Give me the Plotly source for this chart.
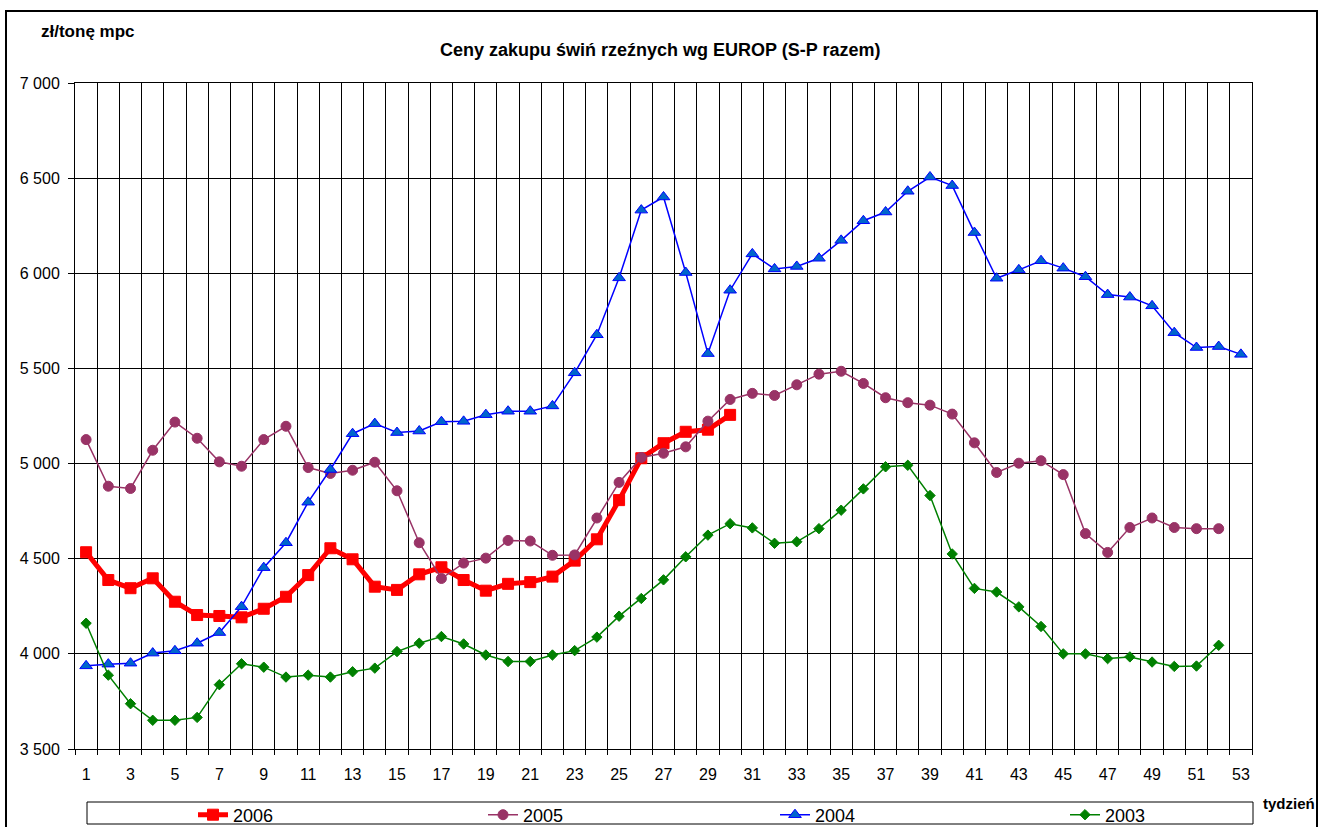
import plotly.graph_objects as go

weeks = list(range(1, 54))
p2006 = [4534, 4388, 4345, 4397, 4274, 4204, 4199, 4192, 4237, 4300,
         4414, 4555, 4497, 4353, 4336, 4418, 4455, 4388, 4332, 4368,
         4377, 4406, 4490, 4602, 4808, 5028, 5107, 5167, 5178, 5256]
p2005 = [5126, 4881, 4869, 5070, 5218, 5133, 5009, 4986, 5126, 5196,
         4979, 4948, 4965, 5007, 4857, 4584, 4396, 4477, 4503, 4596,
         4593, 4518, 4520, 4714, 4901, 5032, 5054, 5088, 5223, 5337,
         5369, 5358, 5414, 5470, 5485, 5421, 5346, 5320, 5307, 5260,
         5109, 4953, 5002, 5015, 4942, 4632, 4533, 4664, 4714, 4664,
         4658, 4658]
p2004 = [3937, 3946, 3951, 4004, 4016, 4056, 4112, 4248, 4453, 4584,
         4797, 4969, 5157, 5210, 5163, 5171, 5220, 5222, 5257, 5275,
         5275, 5303, 5477, 5677, 5976, 6332, 6401, 6004, 5578, 5911,
         6102, 6023, 6036, 6079, 6173, 6276, 6322, 6431, 6506, 6461,
         6214, 5974, 6018, 6066, 6027, 5982, 5888, 5875, 5829, 5688,
         5610, 5615, 5574]
p2003 = [4161, 3888, 3738, 3651, 3651, 3666, 3838, 3948, 3930, 3878,
         3888, 3878, 3906, 3925, 4012, 4056, 4091, 4052, 3994, 3960,
         3960, 3994, 4017, 4088, 4198, 4291, 4389, 4510, 4624, 4684,
         4662, 4581, 4589, 4658, 4755, 4867, 4983, 4991, 4832, 4525,
         4344, 4325, 4247, 4144, 4000, 4000, 3975, 3984, 3957, 3934,
         3936, 4045]

x_labels = [str(w) for w in weeks if w % 2 == 1]
y_ticks = [3500, 4000, 4500, 5000, 5500, 6000, 6500, 7000]

FONT = "Liberation Sans, Arial, sans-serif"

W, H = 1321, 827
L, R, T, B = 75, 1252, 83, 749


def px(x):
    return (x - L) / (R - L)


def py(y):
    return (B - y) / (B - T)


fig = go.Figure()
fig.add_trace(go.Scatter(
    x=weeks[:len(p2006)], y=p2006, name="2006", mode="lines+markers",
    legend="legend",
    line=dict(color="#FF0000", width=5),
    marker=dict(symbol="square", size=11, color="#FF0000",
                line=dict(color="#FF0000", width=1))))
fig.add_trace(go.Scatter(
    x=weeks[:len(p2005)], y=p2005, name="2005", mode="lines+markers",
    legend="legend2",
    line=dict(color="#993366", width=1.5),
    marker=dict(symbol="circle", size=10, color="#993366",
                line=dict(color="#993366", width=1))))
fig.add_trace(go.Scatter(
    x=weeks[:len(p2004)], y=p2004, name="2004", mode="lines+markers",
    legend="legend3",
    line=dict(color="#0000FF", width=1.5),
    marker=dict(symbol="triangle-up", size=11, color="#0066CC",
                line=dict(color="#0000FF", width=1))))
fig.add_trace(go.Scatter(
    x=weeks[:len(p2003)], y=p2003, name="2003", mode="lines+markers",
    legend="legend4",
    line=dict(color="#008000", width=1.5),
    marker=dict(symbol="diamond", size=8, color="#008000",
                line=dict(color="#008000", width=1))))


def leg(xpix):
    return dict(orientation="h", x=px(xpix), y=py(815), xanchor="left",
                yanchor="middle", bgcolor="rgba(0,0,0,0)", borderwidth=0,
                font=dict(family=FONT, size=18, color="black"),
                itemsizing="trace")


fig.update_layout(
    width=W, height=H,
    margin=dict(l=L, r=W - R, t=T, b=H - B, autoexpand=False),
    paper_bgcolor="white", plot_bgcolor="white",
    separators=", ",
    font=dict(family=FONT, size=16, color="black"),
    showlegend=True,
    legend=leg(193), legend2=leg(483), legend3=leg(775), legend4=leg(1065),
    xaxis=dict(range=[0.5, 53.5], tickmode="array",
               tickvals=[w for w in weeks if w % 2 == 1], ticktext=x_labels,
               showgrid=False, ticks="", showline=True, mirror=True,
               linecolor="black", linewidth=1, zeroline=False,
               ticklabelstandoff=11,
               tickfont=dict(family=FONT, size=16, color="black"),
               minor=dict(tickmode="array",
                          tickvals=[w + 0.5 for w in range(0, 54)],
                          showgrid=True, gridcolor="black", gridwidth=1,
                          ticks="outside", ticklen=5, tickcolor="black")),
    yaxis=dict(range=[3500, 7000], tickmode="array", tickvals=y_ticks,
               tickformat=",d", showgrid=True, gridcolor="black", gridwidth=1,
               ticks="outside", ticklen=6, tickcolor="black",
               showline=True, mirror=True, linecolor="black", linewidth=1,
               zeroline=False, ticklabelstandoff=5,
               tickfont=dict(family=FONT, size=16, color="black")),
    shapes=[
        dict(type="rect", xref="paper", yref="paper",
             x0=px(6), x1=px(1317), y0=py(835), y1=py(11),
             line=dict(color="black", width=2), fillcolor="rgba(0,0,0,0)"),
        dict(type="rect", xref="paper", yref="paper",
             x0=px(87), x1=px(1253), y0=py(824), y1=py(802),
             line=dict(color="black", width=1), fillcolor="rgba(0,0,0,0)"),
    ],
    annotations=[
        dict(text="<b>Ceny zakupu świń rzeźnych wg EUROP (S-P razem)</b>",
             xref="paper", yref="paper", x=px(660), y=py(50),
             xanchor="center", yanchor="middle", showarrow=False,
             font=dict(family=FONT, size=18, color="black")),
        dict(text="<b>zł/tonę mpc</b>", xref="paper", yref="paper",
             x=px(39), y=py(32), xanchor="left", yanchor="middle",
             showarrow=False, font=dict(family=FONT, size=17, color="black")),
        dict(text="<b>tydzień</b>", xref="paper", yref="paper",
             x=px(1261), y=py(803), xanchor="left", yanchor="middle",
             showarrow=False, font=dict(family=FONT, size=15, color="black")),
    ],
)

fig.write_html("out.html", config={"displayModeBar": False},
               post_script="document.body.style.margin='0px';"
                           "document.body.style.overflow='hidden';")
